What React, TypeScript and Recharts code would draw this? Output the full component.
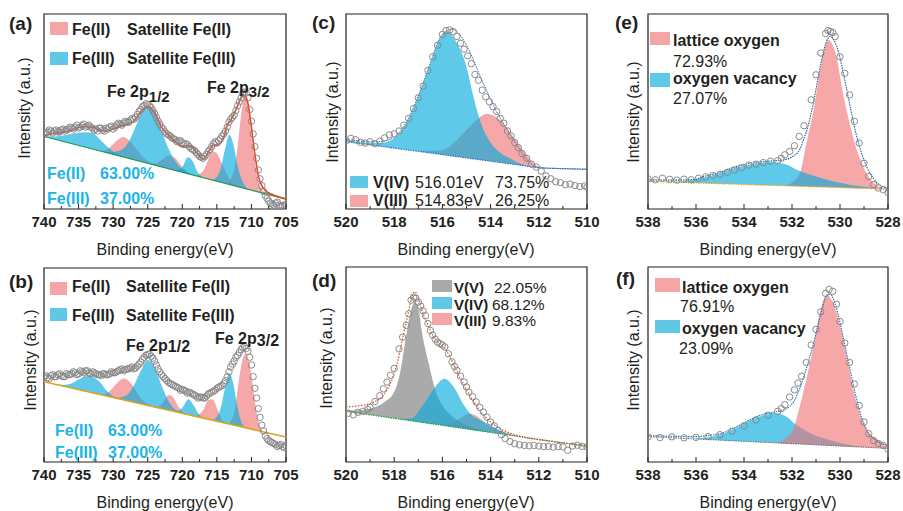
import React from 'react';
import { ComposedChart, Area, Line, Scatter, XAxis, YAxis, ReferenceArea } from 'recharts';

type Tri = [number, number, number];
type Pair = [number, number];

// ---------- tick labels ----------
const TICKS_FE = [740, 737.5, 735, 732.5, 730, 727.5, 725, 722.5, 720, 717.5, 715, 712.5, 710, 707.5, 705];
const TICKS_V = [520, 519, 518, 517, 516, 515, 514, 513, 512, 511, 510];
const TICKS_O = [538, 537, 536, 535, 534, 533, 532, 531, 530, 529, 528];

// ---------- panel (a) ----------
const A_BG: Pair[] = [[740, 37.2], [705, 5.1]];
const A_SAT3_1: Tri[] = [[740, 37.2, 37.4], [738.5, 35.8, 37.2], [737, 34.4, 37.8], [735.5, 33.1, 39.0], [734, 31.7, 39.4], [733, 30.8, 39.0], [732, 29.9, 36.0], [731, 28.9, 32.5], [730, 28.0, 29.6], [729, 27.1, 27.5], [728, 26.2, 26.3]];
const A_SAT2_1: Tri[] = [[731.5, 29.4, 29.6], [730.5, 28.5, 31.5], [729.5, 27.6, 35.0], [728.5, 26.7, 36.9], [727.5, 25.7, 34.5], [726.5, 24.8, 30.0], [725.5, 23.9, 26.0], [724.5, 23.0, 23.4], [723.5, 22.0, 22.0]];
const A_FE3_1: Tri[] = [[731, 28.9, 29.0], [729.5, 27.6, 29.5], [728, 26.2, 33.0], [727, 25.3, 40.0], [726, 24.4, 48.5], [725, 23.4, 52.2], [724, 22.5, 49.0], [723, 21.6, 40.0], [722, 20.7, 31.0], [721, 19.8, 24.5], [720, 18.9, 20.5], [719, 18.0, 18.3], [718, 17.0, 17.0]];
const A_SAT2_2: Tri[] = [[725, 23.4, 23.5], [724, 22.5, 23.3], [723, 21.6, 25.0], [722, 20.7, 27.5], [721, 19.8, 26.0], [720, 18.9, 21.5], [719, 18.0, 18.3], [718.5, 17.5, 17.5]];
const A_SAT3_2: Tri[] = [[721, 19.8, 19.9], [720, 18.9, 21.5], [719.2, 18.2, 26.5], [718.5, 17.5, 24.5], [717.8, 16.8, 19.0], [717, 16.1, 16.3]];
const A_FE2_2: Tri[] = [[718, 17.0, 17.2], [717, 16.1, 19.5], [716, 15.2, 27.0], [715.5, 14.7, 29.5], [715, 14.3, 28.5], [714, 13.4, 21.0], [713, 12.5, 14.5], [712, 11.5, 11.7]];
const A_FE3_2: Tri[] = [[715.5, 14.7, 14.9], [714.5, 13.8, 20.0], [713.8, 13.2, 31.0], [713.2, 12.6, 38.1], [712.6, 12.1, 33.0], [712, 11.5, 22.0], [711.2, 10.8, 13.5], [710.5, 10.2, 10.3]];
const A_FE2_1: Tri[] = [[713.5, 12.9, 13.2], [712.5, 12.0, 20.0], [712, 11.5, 32.0], [711.5, 11.1, 48.0], [711, 10.6, 58.0], [710.5, 10.2, 52.0], [710, 9.7, 38.0], [709.5, 9.2, 24.0], [709, 8.8, 14.0], [708.5, 8.3, 10.0], [708, 7.9, 8.1]];
const A_ENV: Pair[] = [[740, 37.5], [739, 38.5], [738, 39.0], [737, 39.5], [736, 40.5], [735, 41.8], [734, 42.3], [733, 42.0], [732, 40.5], [731, 40.0], [730, 41.0], [729, 42.5], [728, 43.5], [727, 45.0], [726, 50.0], [725, 52.5], [724, 49.5], [723, 42.0], [722, 38.0], [721, 34.5], [720, 32.0], [719, 32.5], [718, 29.5], [717, 25.5], [716, 30.5], [715.5, 33.0], [715, 32.5], [714, 37.0], [713.5, 43.0], [713, 45.5], [712.5, 49.0], [712, 53.0], [711.5, 57.0], [711, 58.5], [710.5, 54.0], [710, 42.0], [709.5, 28.0], [709, 17.0], [708.5, 12.0], [708, 9.5], [707, 7.5], [706, 6.2], [705, 5.2]];
const A_PTS: Pair[] = [[740, 38.5], [739.5, 39.5], [739, 40.0], [738.5, 40.0], [738, 39.5], [737.5, 40.5], [737, 40.0], [736.5, 41.0], [736, 41.5], [735.5, 42.0], [735, 41.5], [734.5, 42.8], [734, 42.0], [733.5, 43.0], [733, 41.5], [732.5, 41.0], [732, 41.5], [731.5, 40.5], [731, 41.5], [730.5, 42.0], [730, 41.0], [729.5, 43.0], [729, 43.5], [728.5, 44.0], [728, 44.5], [727.5, 45.5], [727, 46.0], [726.5, 48.5], [726, 51.0], [725.5, 53.0], [725, 53.5], [724.5, 52.0], [724, 49.0], [723.5, 45.0], [723, 42.0], [722.5, 39.5], [722, 38.0], [721.5, 36.5], [721, 35.5], [720.5, 35.0], [720, 34.0], [719.5, 33.5], [719, 32.0], [718.5, 30.5], [718, 29.0], [717.5, 27.0], [717, 26.0], [716.5, 28.0], [716, 30.5], [715.5, 33.5], [715, 34.0], [714.5, 36.0], [714, 38.5], [713.5, 42.0], [713, 46.0], [712.5, 48.0], [712, 53.0], [711.5, 57.0], [711, 60.0], [710.5, 57.0], [710, 45.0], [709.5, 32.0], [709, 20.0], [708.5, 12.0], [708, 7.0], [707.5, 4.0], [707, 2.5], [706.5, 3.0], [706, 2.0], [705.5, 1.5], [705, 2.5]];
const A_PTS2: Pair[] = [[739.75, 39.0], [739.25, 40.5], [738.75, 39.0], [738.25, 40.5], [737.75, 39.5], [737.25, 41.0], [736.75, 40.5], [736.25, 42.0], [735.75, 41.0], [735.25, 43.0], [734.75, 42.0], [734.25, 43.5], [733.75, 42.5], [733.25, 42.0], [732.75, 40.5], [732.25, 40.0], [731.75, 41.5], [731.25, 40.0], [730.75, 41.0], [730.25, 42.5], [729.75, 42.0], [729.25, 44.0], [728.75, 43.0], [728.25, 45.0], [727.75, 44.5], [727.25, 46.5], [726.75, 47.0], [726.25, 50.0], [725.75, 52.5], [725.25, 54.0], [724.75, 53.0], [724.25, 50.5], [723.75, 47.0], [723.25, 43.5], [722.75, 41.0], [722.25, 38.5], [721.75, 37.5], [721.25, 36.0], [720.75, 34.5], [720.25, 35.0], [719.75, 33.0], [719.25, 33.0], [718.75, 31.0], [718.25, 30.0], [717.75, 28.0], [717.25, 26.5], [716.75, 27.0], [716.25, 29.5], [715.75, 32.0], [715.25, 34.5], [714.75, 35.0], [714.25, 37.5], [713.75, 40.0], [713.25, 44.5], [712.75, 47.0], [712.25, 50.5], [711.75, 55.0], [711.25, 59.0], [710.75, 59.5], [710.25, 51.0], [709.75, 38.5], [709.25, 26.0], [708.75, 15.5], [708.25, 9.0], [707.75, 5.5], [707.25, 3.0], [706.75, 2.0], [706.25, 3.5], [705.75, 1.5], [705.25, 2.0]];

// ---------- panel (b) ----------
const B_BG: Pair[] = [[740, 41.4], [705, 12.9]];
const B_SAT3_1: Tri[] = [[738, 39.8, 40.0], [737, 38.9, 39.8], [736, 38.1, 40.5], [735, 37.3, 42.5], [734, 36.5, 44.3], [733.5, 36.1, 44.5], [733, 35.7, 44.0], [732, 34.9, 41.5], [731, 34.1, 37.0], [730, 33.3, 34.0], [729, 32.4, 32.6]];
const B_SAT2_1: Tri[] = [[731.5, 34.5, 34.7], [730.5, 33.7, 36.5], [729.5, 32.8, 40.5], [728.5, 32.0, 43.1], [727.5, 31.2, 41.0], [726.5, 30.4, 35.5], [725.5, 29.6, 31.0], [724.5, 28.8, 29.0]];
const B_FE3_1: Tri[] = [[729.5, 32.8, 33.0], [728, 31.6, 34.5], [727, 30.8, 39.5], [726, 30.0, 47.0], [725, 29.2, 52.6], [724, 28.4, 49.0], [723, 27.5, 39.5], [722, 26.7, 31.5], [721, 25.9, 27.0], [720, 25.1, 25.3]];
const B_SAT2_2: Tri[] = [[723.5, 28.0, 28.2], [722.7, 27.3, 31.0], [722, 26.7, 34.5], [721.5, 26.3, 34.0], [720.8, 25.8, 30.0], [720, 25.1, 26.0], [719.5, 24.7, 24.8]];
const B_SAT3_2: Tri[] = [[720.8, 25.8, 26.0], [720, 25.1, 28.0], [719.1, 24.4, 32.4], [718.4, 23.8, 29.5], [717.6, 23.2, 24.5], [717, 22.7, 22.8]];
const B_FE2_2: Tri[] = [[718, 23.5, 23.7], [717, 22.7, 26.5], [716.2, 22.0, 32.0], [715.6, 21.5, 32.2], [714.9, 21.0, 27.0], [714.2, 20.4, 21.5], [713.5, 19.8, 19.9]];
const B_FE3_2: Tri[] = [[715.5, 21.4, 21.6], [714.5, 20.6, 27.0], [713.8, 20.1, 38.5], [713.2, 19.6, 45.7], [712.6, 19.1, 40.0], [712, 18.6, 28.0], [711.3, 18.0, 19.5], [710.7, 17.6, 17.7]];
const B_FE2_1: Tri[] = [[713.2, 19.6, 19.8], [712.4, 18.9, 27.0], [711.9, 18.5, 40.0], [711.4, 18.1, 51.0], [710.9, 17.7, 55.7], [710.4, 17.3, 52.0], [709.9, 16.9, 42.0], [709.4, 16.5, 29.0], [708.9, 16.1, 19.5], [708.4, 15.7, 16.2], [708, 15.3, 15.4]];
const B_PTS: Pair[] = [[740, 44.0], [739.5, 43.5], [739, 44.5], [738.5, 44.0], [738, 45.0], [737.5, 44.5], [737, 44.0], [736.5, 45.0], [736, 45.5], [735.5, 46.0], [735, 45.5], [734.5, 46.5], [734, 47.0], [733.5, 46.0], [733, 46.5], [732.5, 45.5], [732, 45.0], [731.5, 45.5], [731, 45.0], [730.5, 45.5], [730, 46.0], [729.5, 46.5], [729, 47.5], [728.5, 47.0], [728, 48.0], [727.5, 48.5], [727, 48.0], [726.5, 49.5], [726, 51.5], [725.5, 54.0], [725, 55.5], [724.5, 54.5], [724, 52.0], [723.5, 48.0], [723, 45.0], [722.5, 43.0], [722, 41.0], [721.5, 40.0], [721, 39.0], [720.5, 38.0], [720, 37.5], [719.5, 36.5], [719, 36.0], [718.5, 35.0], [718, 34.0], [717.5, 33.5], [717, 33.0], [716.5, 34.0], [716, 35.5], [715.5, 36.5], [715, 38.0], [714.5, 39.0], [714, 40.5], [713.5, 44.0], [713, 49.0], [712.5, 52.0], [712, 55.0], [711.5, 58.0], [711, 59.5], [710.5, 57.0], [710, 50.0], [709.5, 38.0], [709, 27.5], [708.5, 19.0], [708, 13.5], [707.5, 11.0], [707, 10.0], [706.5, 9.0], [706, 8.5], [705.5, 8.0], [705, 8.5]];
const B_PTS2: Pair[] = [[739.75, 44.5], [739.25, 43.0], [738.75, 45.0], [738.25, 44.0], [737.75, 45.5], [737.25, 44.0], [736.75, 45.5], [736.25, 45.0], [735.75, 46.5], [735.25, 45.0], [734.75, 47.0], [734.25, 46.0], [733.75, 47.0], [733.25, 45.5], [732.75, 46.0], [732.25, 45.0], [731.75, 44.5], [731.25, 45.5], [730.75, 45.0], [730.25, 46.5], [729.75, 46.0], [729.25, 47.0], [728.75, 48.0], [728.25, 47.5], [727.75, 48.0], [727.25, 49.0], [726.75, 48.5], [726.25, 50.5], [725.75, 53.0], [725.25, 55.0], [724.75, 55.5], [724.25, 53.5], [723.75, 50.0], [723.25, 46.5], [722.75, 44.0], [722.25, 42.0], [721.75, 40.5], [721.25, 39.5], [720.75, 38.5], [720.25, 37.0], [719.75, 37.0], [719.25, 35.5], [718.75, 35.5], [718.25, 34.5], [717.75, 33.0], [717.25, 33.5], [716.75, 33.0], [716.25, 35.0], [715.75, 36.0], [715.25, 37.0], [714.75, 38.5], [714.25, 39.5], [713.75, 42.0], [713.25, 46.5], [712.75, 50.5], [712.25, 54.0], [711.75, 56.5], [711.25, 59.0], [710.75, 58.5], [710.25, 54.0], [709.75, 44.0], [709.25, 33.0], [708.75, 23.0], [708.25, 16.0], [707.75, 12.0], [707.25, 10.5], [706.75, 9.5], [706.25, 8.0], [705.75, 9.0], [705.25, 7.5]];

// ---------- panel (c) ----------
const C_BG: Pair[] = [[520, 34.6], [511.9, 21.0], [510, 20.4]];
const C_V4: Tri[] = [[520, 34.6, 35.2], [519, 32.9, 34.0], [518.5, 32.1, 34.0], [518, 31.2, 36.3], [517.5, 30.4, 44.0], [517, 29.6, 57.7], [516.5, 28.7, 74.7], [516.1, 28.1, 87.5], [515.8, 27.6, 91.0], [515.4, 26.9, 85.0], [515, 26.2, 73.0], [514.7, 25.7, 57.0], [514.4, 25.2, 44.0], [514.1, 24.7, 36.0], [513.8, 24.2, 31.0], [513.5, 23.7, 28.0], [513.2, 23.2, 26.0], [512.9, 22.7, 24.0], [512.6, 22.2, 22.6], [512.3, 21.7, 21.8]];
const C_V3: Tri[] = [[517, 29.6, 29.8], [516.1, 28.1, 30.0], [515.7, 27.4, 32.0], [515.27, 26.7, 37.0], [514.72, 25.8, 44.0], [514.16, 24.8, 48.8], [513.6, 23.9, 45.6], [513.06, 23.0, 37.0], [512.5, 22.1, 27.7], [512, 21.2, 21.5], [511.7, 20.9, 20.9]];
const C_ENV: Pair[] = [[520, 35.5], [519.5, 35.0], [519, 34.5], [518.5, 34.7], [518, 36.8], [517.5, 44.5], [517, 58.0], [516.5, 75.0], [516.1, 87.8], [515.8, 91.5], [515.6, 92.2], [515.4, 91.0], [515, 84.0], [514.7, 76.0], [514.4, 67.0], [514.1, 59.0], [513.8, 51.0], [513.5, 44.5], [513.2, 38.5], [512.9, 32.5], [512.6, 27.0], [512.3, 23.0], [512, 21.3], [511.5, 20.9], [511, 20.7], [510.5, 20.5], [510, 20.4]];
const C_PTS: Pair[] = [[520, 35.0], [519.8, 36.2], [519.6, 35.5], [519.4, 34.2], [519.2, 33.8], [519, 34.5], [518.8, 33.5], [518.6, 34.8], [518.4, 36.5], [518.2, 38.0], [518, 38.5], [517.8, 40.0], [517.6, 43.0], [517.4, 46.5], [517.2, 51.5], [517, 57.0], [516.8, 63.0], [516.6, 71.0], [516.4, 78.0], [516.2, 84.0], [516, 89.5], [515.85, 91.5], [515.7, 91.8], [515.55, 91.0], [515.4, 88.5], [515.25, 85.0], [515.1, 82.0], [514.95, 78.5], [514.8, 74.5], [514.65, 69.0], [514.5, 66.0], [514.35, 61.0], [514.2, 57.5], [514.05, 55.0], [513.9, 52.5], [513.75, 50.0], [513.6, 46.5], [513.45, 44.0], [513.3, 40.0], [513.15, 37.5], [513, 34.0], [512.85, 31.5], [512.7, 28.5], [512.5, 26.0], [512.3, 23.0], [512.1, 21.5], [511.9, 19.5], [511.7, 17.0], [511.5, 15.5], [511.3, 14.0], [511.1, 13.5], [510.9, 12.5], [510.7, 12.8], [510.5, 12.0], [510.3, 11.5], [510.1, 11.8], [510, 11.2]];

// ---------- panel (d) ----------
const D_BG: Pair[] = [[520, 26.0], [510, 8.0]];
const D_V5: Tri[] = [[520, 26.0, 26.5], [519.5, 25.1, 26.5], [519, 24.2, 27.4], [518.4, 23.1, 30.8], [518, 22.4, 35.9], [517.75, 22.0, 46.0], [517.5, 21.5, 65.0], [517.3, 21.1, 78.0], [517.15, 20.9, 82.1], [517, 20.6, 79.0], [516.85, 20.3, 66.7], [516.55, 19.8, 49.6], [516.3, 19.3, 37.0], [516, 18.8, 29.0], [515.6, 18.1, 23.5], [515.2, 17.4, 20.0], [514.8, 16.6, 17.8], [514.3, 15.7, 16.0], [513.8, 14.8, 14.8]];
const D_V4: Tri[] = [[517.8, 22.0, 22.1], [517.3, 21.1, 22.3], [516.9, 20.4, 27.5], [516.6, 19.9, 33.0], [516.3, 19.3, 38.5], [515.92, 18.7, 42.7], [515.53, 18.0, 38.5], [515.1, 17.2, 29.0], [514.84, 16.7, 24.8], [514.4, 15.9, 21.4], [514, 15.2, 18.8], [513.5, 14.3, 15.5], [513, 13.4, 13.5]];
const D_V3: Tri[] = [[516, 18.8, 18.9], [515.6, 18.1, 20.0], [515.2, 17.4, 23.0], [514.9, 16.8, 24.8], [514.6, 16.3, 23.8], [514.3, 15.7, 20.8], [514, 15.2, 17.8], [513.6, 14.5, 16.0], [513.2, 13.8, 14.5], [512.8, 13.0, 13.1]];
const D_ENV: Pair[] = [[520, 28.2], [519.5, 28.8], [519, 30.0], [518.4, 35.0], [517.9, 49.6], [517.5, 71.8], [517.15, 87.2], [516.8, 76.0], [516.4, 65.0], [515.8, 56.4], [515.25, 42.7], [514.7, 30.8], [514.15, 22.2], [513.6, 17.1], [512.9, 13.7], [511.5, 10.6], [510, 8.5]];
const D_PTS: Pair[] = [[519.9, 25.0], [519.7, 24.2], [519.5, 25.5], [519.3, 26.0], [519.1, 27.0], [519, 28.0], [518.8, 31.0], [518.6, 34.0], [518.45, 37.5], [518.3, 41.0], [518.15, 44.5], [518, 48.0], [517.8, 58.0], [517.65, 64.0], [517.5, 70.0], [517.4, 76.0], [517.3, 83.0], [517.2, 84.5], [517.1, 84.0], [517, 82.0], [516.9, 80.0], [516.8, 77.5], [516.7, 75.0], [516.6, 71.0], [516.5, 67.5], [516.4, 65.0], [516.3, 63.0], [516.2, 61.5], [516.1, 60.7], [516, 60.0], [515.9, 59.0], [515.75, 55.5], [515.6, 51.3], [515.5, 49.0], [515.4, 47.0], [515.25, 44.0], [515.1, 41.0], [515, 38.5], [514.9, 35.9], [514.75, 33.5], [514.6, 30.8], [514.45, 28.0], [514.3, 25.6], [514.15, 23.0], [514, 20.5], [513.85, 18.5], [513.7, 16.2], [513.55, 14.0], [513.4, 12.0], [513.2, 10.5], [513, 9.4], [512.8, 8.8], [512.6, 8.5], [512.4, 8.3], [512.2, 8.5], [512, 8.2], [511.8, 7.9], [511.6, 8.0], [511.4, 7.6], [511.2, 7.9], [511, 7.7], [510.8, 6.0], [510.6, 8.2], [510.4, 8.6], [510.2, 8.0], [510, 7.7]];

// ---------- panel (e) ----------
const E_BG: Pair[] = [[538, 14.2], [528, 10.2]];
const E_O_LAT: Tri[] = [[532.4, 12.0, 12.1], [532, 11.8, 13.5], [531.67, 11.7, 18.4], [531.4, 11.6, 33.8], [531.1, 11.4, 50.9], [530.85, 11.3, 69.6], [530.65, 11.3, 82.0], [530.48, 11.2, 86.7], [530.3, 11.1, 84.0], [530.15, 11.1, 78.2], [529.9, 11.0, 61.0], [529.6, 10.8, 44.0], [529.3, 10.7, 30.4], [528.9, 10.6, 18.4], [528.5, 10.4, 12.5], [528.1, 10.2, 10.5]];
const E_O_VAC: Tri[] = [[537, 13.8, 14.0], [536.4, 13.6, 14.5], [535.8, 13.3, 15.9], [535.1, 13.0, 18.1], [534.4, 12.8, 21.0], [533.7, 12.5, 23.0], [532.9, 12.2, 24.1], [532.2, 11.9, 22.7], [531.8, 11.7, 20.1], [531.4, 11.6, 18.2], [531, 11.4, 16.7], [530.3, 11.1, 14.2], [529.6, 10.8, 12.5], [528.9, 10.6, 11.3], [528.4, 10.4, 10.6]];
const E_ENV: Pair[] = [[538, 15.0], [537, 14.8], [536, 15.2], [535.8, 16.2], [535.1, 18.5], [534.4, 21.5], [533.7, 23.5], [532.9, 24.6], [532.5, 25.0], [532.2, 25.6], [531.9, 27.5], [531.7, 30.0], [531.5, 36.0], [531.3, 44.0], [531.1, 55.0], [530.9, 68.0], [530.7, 80.0], [530.5, 87.5], [530.4, 88.5], [530.25, 86.5], [530.05, 80.0], [529.9, 72.0], [529.7, 60.0], [529.5, 48.0], [529.3, 37.0], [529.1, 28.5], [528.9, 22.0], [528.6, 15.5], [528.3, 12.0], [528, 10.8]];
const E_PTS: Pair[] = [[538, 15.5], [537.7, 15.0], [537.4, 15.8], [537.1, 15.2], [536.8, 14.8], [536.5, 15.3], [536.2, 15.0], [535.9, 15.8], [535.6, 16.5], [535.3, 17.2], [535, 17.8], [534.7, 18.8], [534.4, 20.0], [534.1, 21.2], [533.8, 22.5], [533.5, 23.0], [533.2, 23.8], [532.9, 24.5], [532.6, 24.8], [532.45, 26.0], [532.3, 27.8], [532.1, 29.5], [531.9, 32.4], [531.7, 37.2], [531.5, 42.7], [531.2, 56.0], [531, 68.8], [530.8, 80.0], [530.6, 90.0], [530.5, 91.5], [530.4, 91.0], [530.3, 90.5], [530.2, 88.4], [530, 78.0], [529.8, 69.6], [529.6, 58.5], [529.4, 45.0], [529.2, 33.8], [529, 23.5], [528.8, 16.7], [528.6, 12.5], [528.4, 10.8], [528.2, 9.9], [528, 8.5]];

// ---------- panel (f) ----------
const F_BG: Pair[] = [[538, 13.0], [528, 7.0]];
const F_O_VAC: Tri[] = [[536, 11.8, 12.0], [535.1, 11.3, 13.7], [534.4, 10.8, 17.1], [533.75, 10.5, 21.4], [533.2, 10.1, 24.0], [532.78, 9.9, 25.1], [532.2, 9.5, 23.0], [531.9, 9.3, 19.7], [531.5, 9.1, 16.5], [531, 8.8, 13.5], [530.5, 8.5, 11.5], [530, 8.2, 9.8], [529.4, 7.8, 8.4], [529, 7.6, 7.7]];
const F_O_LAT: Tri[] = [[532.6, 9.8, 9.9], [532, 9.4, 15.4], [531.7, 9.2, 27.4], [531.4, 9.0, 42.7], [531.1, 8.9, 59.8], [530.85, 8.7, 76.0], [530.56, 8.5, 85.5], [530.3, 8.4, 82.0], [530, 8.2, 70.0], [529.7, 8.0, 53.0], [529.45, 7.9, 37.6], [529.2, 7.7, 25.6], [528.9, 7.5, 17.1], [528.5, 7.3, 12.0], [528.1, 7.1, 9.0]];
const F_ENV: Pair[] = [[538, 13.5], [537, 13.2], [536, 13.0], [535.5, 13.6], [535, 14.5], [534.4, 17.5], [533.7, 22.0], [533.2, 24.5], [532.8, 25.5], [532.4, 26.5], [532.1, 28.5], [531.9, 31.5], [531.7, 37.0], [531.5, 44.0], [531.3, 52.0], [531.1, 61.0], [530.9, 71.0], [530.7, 80.5], [530.55, 85.5], [530.4, 86.0], [530.2, 81.0], [530, 71.5], [529.8, 60.0], [529.6, 48.5], [529.4, 37.0], [529.2, 27.0], [529, 19.5], [528.8, 14.5], [528.5, 11.0], [528, 8.5]];
const F_PTS: Pair[] = [[538, 12.8], [537.5, 12.5], [537, 12.9], [536.5, 12.4], [536, 12.6], [535.5, 13.0], [535, 14.0], [534.5, 15.8], [534, 18.5], [533.5, 21.5], [533, 24.0], [532.6, 26.0], [532.45, 27.4], [532.3, 29.4], [532.1, 33.3], [531.9, 37.0], [531.75, 40.5], [531.6, 44.0], [531.4, 51.0], [531.2, 60.0], [531, 68.0], [530.8, 77.0], [530.6, 86.5], [530.45, 88.5], [530.3, 87.5], [530.15, 81.0], [530, 72.0], [529.8, 61.0], [529.6, 51.0], [529.4, 40.0], [529.2, 29.0], [529, 20.5], [528.8, 14.5], [528.6, 11.0], [528.4, 9.5], [528.2, 8.5], [528, 6.5]];

// ---------- styles ----------
const BLUE = '#00aadc';
const PINK = '#f06e6e';
const GRAY = '#7d7d7d';
const SW_BLUE = '#5ec8e6';
const SW_PINK = '#f5a5a5';
const SW_GRAY = '#a9a9a9';
const FONT = '"Liberation Sans", Arial, Helvetica, sans-serif';
const INK = '#231f20';
const CYAN = '#1bb3e8';
const PAD = 22;

type Peak = { data: Tri[]; color: string; opacity: number };
type LineStyle = { stroke: string; width: number; dash?: string };
type Spec = {
  plotLeft: number; plotTop: number; plotW: number; plotH: number;
  domain: [number, number]; ticks: number[]; major: number;
  peaks: Peak[]; bg: Pair[]; bgStyle: LineStyle; pts: Pair[][];
  env?: Pair[]; envStyle?: LineStyle;
};

const toRange = (t: Tri[]) => t.map(([e, lo, hi]) => ({ e, r: [lo, hi] }));
const toPts = (p: Pair[]) => p.map(([e, v]) => ({ e, v }));

const makeTick = (major: number) => (props: any) => {
  const { x, y, payload } = props;
  const v = payload.value as number;
  const isMajor = Math.abs(v / major - Math.round(v / major)) < 1e-6;
  return (
    <g>
      <line x1={x} x2={x} y1={y} y2={y - (isMajor ? 5 : 3)} stroke={INK} strokeWidth={1} />
      {isMajor && (
        <text x={x} y={y + 18} textAnchor="middle" fontSize={15} fontWeight="bold" fill={INK} fontFamily={FONT}>
          {v}
        </text>
      )}
    </g>
  );
};

const circleShape = (p: any) => (
  <circle cx={p.cx} cy={p.cy} r={3.2} fill="none" stroke="#858585" strokeWidth={0.95} />
);

function Panel({ s }: { s: Spec }) {
  return (
    <div style={{ position: 'absolute', left: s.plotLeft - PAD, top: s.plotTop - 2 }}>
      <ComposedChart width={s.plotW + 2 * PAD} height={s.plotH + 35} margin={{ top: 2, right: PAD, bottom: 0, left: PAD }}>
        <XAxis
          dataKey="e"
          type="number"
          domain={s.domain}
          reversed
          allowDataOverflow
          ticks={s.ticks}
          interval={0}
          tickLine={false}
          axisLine={false}
          tickSize={0}
          tickMargin={0}
          height={33}
          tick={makeTick(s.major)}
        />
        <YAxis dataKey="v" type="number" domain={[0, 100]} hide width={0} allowDataOverflow />
        {s.peaks.map((p, i) => (
          <Area
            key={i}
            data={toRange(p.data)}
            dataKey="r"
            type="monotone"
            fill={p.color}
            fillOpacity={p.opacity}
            stroke="none"
            dot={false}
            activeDot={false}
            isAnimationActive={false}
          />
        ))}
        <Line
          data={toPts(s.bg)}
          dataKey="v"
          type="linear"
          stroke={s.bgStyle.stroke}
          strokeWidth={s.bgStyle.width}
          strokeDasharray={s.bgStyle.dash}
          dot={false}
          activeDot={false}
          isAnimationActive={false}
        />
        {s.pts.map((pp, i) => (
          <Scatter key={'s' + i} data={toPts(pp)} shape={circleShape} isAnimationActive={false} />
        ))}
        {s.env && s.envStyle && (
          <Line
            data={toPts(s.env)}
            dataKey="v"
            type="monotone"
            stroke={s.envStyle.stroke}
            strokeWidth={s.envStyle.width}
            strokeDasharray={s.envStyle.dash}
            dot={false}
            activeDot={false}
            isAnimationActive={false}
          />
        )}
        <ReferenceArea
          x1={s.domain[0]}
          x2={s.domain[1]}
          y1={0}
          y2={100}
          fill="none"
          stroke={INK}
          strokeWidth={1.2}
          ifOverflow="visible"
        />
      </ComposedChart>
    </div>
  );
}

const SPECS: Spec[] = [
  {
    plotLeft: 44, plotTop: 14, plotW: 242, plotH: 195, domain: [705, 740], ticks: TICKS_FE, major: 5,
    peaks: [
      { data: A_SAT2_1, color: PINK, opacity: 0.6 },
      { data: A_SAT2_2, color: PINK, opacity: 0.6 },
      { data: A_FE2_2, color: PINK, opacity: 0.6 },
      { data: A_FE2_1, color: PINK, opacity: 0.6 },
      { data: A_SAT3_1, color: BLUE, opacity: 0.63 },
      { data: A_FE3_1, color: BLUE, opacity: 0.63 },
      { data: A_SAT3_2, color: BLUE, opacity: 0.63 },
      { data: A_FE3_2, color: BLUE, opacity: 0.63 },
    ],
    bg: A_BG, bgStyle: { stroke: '#1a9a50', width: 1.2 }, pts: [A_PTS, A_PTS2],
    env: A_ENV, envStyle: { stroke: '#ee4422', width: 1.6 },
  },
  {
    plotLeft: 44, plotTop: 268, plotW: 242, plotH: 194, domain: [705, 740], ticks: TICKS_FE, major: 5,
    peaks: [
      { data: B_SAT2_1, color: PINK, opacity: 0.6 },
      { data: B_SAT2_2, color: PINK, opacity: 0.6 },
      { data: B_FE2_2, color: PINK, opacity: 0.6 },
      { data: B_FE2_1, color: PINK, opacity: 0.6 },
      { data: B_SAT3_1, color: BLUE, opacity: 0.63 },
      { data: B_FE3_1, color: BLUE, opacity: 0.63 },
      { data: B_SAT3_2, color: BLUE, opacity: 0.63 },
      { data: B_FE3_2, color: BLUE, opacity: 0.63 },
    ],
    bg: B_BG, bgStyle: { stroke: '#d9a51c', width: 1.5 }, pts: [B_PTS, B_PTS2],
  },
  {
    plotLeft: 346, plotTop: 14, plotW: 241, plotH: 195, domain: [510, 520], ticks: TICKS_V, major: 2,
    peaks: [
      { data: C_V3, color: PINK, opacity: 0.6 },
      { data: C_V4, color: BLUE, opacity: 0.63 },
    ],
    bg: C_BG, bgStyle: { stroke: '#2878c0', width: 1.2, dash: '1.5 1' }, pts: [C_PTS],
    env: C_ENV, envStyle: { stroke: '#2b6fb0', width: 1, dash: '1.5 1' },
  },
  {
    plotLeft: 346, plotTop: 267, plotW: 241, plotH: 195, domain: [510, 520], ticks: TICKS_V, major: 2,
    peaks: [
      { data: D_V5, color: GRAY, opacity: 0.65 },
      { data: D_V3, color: PINK, opacity: 0.6 },
      { data: D_V4, color: BLUE, opacity: 0.63 },
    ],
    bg: D_BG, bgStyle: { stroke: '#22a040', width: 1.3, dash: '1.5 1' }, pts: [D_PTS],
    env: D_ENV, envStyle: { stroke: '#e5502a', width: 1.3, dash: '1.5 1.5' },
  },
  {
    plotLeft: 648, plotTop: 14, plotW: 240, plotH: 195, domain: [528, 538], ticks: TICKS_O, major: 2,
    peaks: [
      { data: E_O_LAT, color: PINK, opacity: 0.6 },
      { data: E_O_VAC, color: BLUE, opacity: 0.63 },
    ],
    bg: E_BG, bgStyle: { stroke: '#f0a020', width: 1.3, dash: '1.5 1' }, pts: [E_PTS],
    env: E_ENV, envStyle: { stroke: '#1d5e9e', width: 1.1, dash: '1.5 1' },
  },
  {
    plotLeft: 648, plotTop: 267, plotW: 240, plotH: 195, domain: [528, 538], ticks: TICKS_O, major: 2,
    peaks: [
      { data: F_O_VAC, color: BLUE, opacity: 0.63 },
      { data: F_O_LAT, color: PINK, opacity: 0.6 },
    ],
    bg: F_BG, bgStyle: { stroke: '#777777', width: 1.1, dash: '1.5 1' }, pts: [F_PTS],
    env: F_ENV, envStyle: { stroke: '#2070b0', width: 1.1, dash: '1.5 1' },
  },
];

const T = (p: { x: number; y: number; s?: number; b?: boolean; c?: string; a?: 'start' | 'middle' | 'end'; children: React.ReactNode }) => (
  <text
    x={p.x}
    y={p.y}
    fontSize={p.s ?? 16}
    fontWeight={p.b ? 'bold' : 'normal'}
    fill={p.c ?? INK}
    textAnchor={p.a ?? 'start'}
    dominantBaseline="central"
    fontFamily={FONT}
  >
    {p.children}
  </text>
);

function Overlay() {
  const xLabel = (x: number, y: number) => (
    <T x={x} y={y} a="middle">Binding energy(eV)</T>
  );
  const yLabel = (x: number, y: number) => (
    <text x={x} y={y} fontSize={16} fill={INK} textAnchor="middle" dominantBaseline="central" fontFamily={FONT} transform={`rotate(-90 ${x} ${y})`}>
      Intensity (a.u.)
    </text>
  );
  return (
    <svg width={903} height={511} style={{ position: 'absolute', left: 0, top: 0, pointerEvents: 'none' }}>
      {/* panel letters */}
      <T x={9} y={23} s={19} b>(a)</T>
      <T x={9} y={281} s={19} b>(b)</T>
      <T x={312} y={22} s={19} b>(c)</T>
      <T x={312} y={280} s={19} b>(d)</T>
      <T x={615} y={22} s={19} b>(e)</T>
      <T x={616} y={278} s={19} b>(f)</T>

      {xLabel(165, 249)} {xLabel(466, 249)} {xLabel(768, 249)}
      {xLabel(165, 502)} {xLabel(466, 502)} {xLabel(768, 502)}
      {yLabel(24, 108)} {yLabel(332, 112)} {yLabel(633, 112)}
      {yLabel(30, 360)} {yLabel(326, 358)} {yLabel(633, 360)}

      {/* (a) */}
      <rect x={50} y={22} width={18} height={13} fill={SW_PINK} />
      <T x={72} y={29} b>Fe(II)</T>
      <T x={127} y={29} b>Satellite Fe(II)</T>
      <rect x={50} y={52} width={18} height={13} fill={SW_BLUE} />
      <T x={72} y={58} b>Fe(III)</T>
      <T x={127} y={58} b>Satellite Fe(III)</T>
      <text x={107} y={97} fontSize={16} fontWeight="bold" fill={INK} fontFamily={FONT}>
        Fe 2p<tspan fontSize={15} dy={5}>1/2</tspan>
      </text>
      <text x={207} y={93} fontSize={16} fontWeight="bold" fill={INK} fontFamily={FONT}>
        Fe 2p<tspan fontSize={15} dy={4}>3/2</tspan>
      </text>
      <T x={47} y={173} b c={CYAN}>Fe(II)</T>
      <T x={100} y={173} b c={CYAN}>63.00%</T>
      <T x={47} y={198} b c={CYAN}>Fe(III)</T>
      <T x={100} y={198} b c={CYAN}>37.00%</T>

      {/* (b) */}
      <rect x={50} y={282} width={17} height={13} fill={SW_PINK} />
      <T x={72} y={286} b>Fe(II)</T>
      <T x={126} y={286} b>Satellite Fe(II)</T>
      <rect x={50} y={308} width={17} height={13} fill={SW_BLUE} />
      <T x={72} y={315} b>Fe(III)</T>
      <T x={126} y={315} b>Satellite Fe(III)</T>
      <text x={126} y={351} fontSize={16} fontWeight="bold" fill={INK} fontFamily={FONT}>
        Fe 2p<tspan dy={1}>1/2</tspan>
      </text>
      <text x={215} y={344} fontSize={16} fontWeight="bold" fill={INK} fontFamily={FONT}>
        Fe 2p<tspan dy={2}>3/2</tspan>
      </text>
      <T x={55} y={430} b c={CYAN}>Fe(II)</T>
      <T x={108} y={430} b c={CYAN}>63.00%</T>
      <T x={55} y={452} b c={CYAN}>Fe(III)</T>
      <T x={108} y={452} b c={CYAN}>37.00%</T>

      {/* (c) */}
      <rect x={350} y={176} width={18} height={12} fill={SW_BLUE} />
      <T x={373} y={182} b>V(IV)</T>
      <T x={415} y={182}>516.01eV</T>
      <T x={495} y={182}>73.75%</T>
      <rect x={350} y={195} width={18} height={12} fill={SW_PINK} />
      <T x={373} y={200} b>V(III)</T>
      <T x={415} y={200}>514.83eV</T>
      <T x={495} y={200}>26.25%</T>

      {/* (d) */}
      <rect x={432} y={280} width={20} height={12} fill={SW_GRAY} />
      <T x={454} y={287} s={15} b>V(V)</T>
      <T x={494} y={287} s={15.5}>22.05%</T>
      <rect x={432} y={297} width={20} height={12} fill={SW_BLUE} />
      <T x={454} y={304} s={15} b>V(IV)</T>
      <T x={492} y={304} s={15.5}>68.12%</T>
      <rect x={432} y={313} width={20} height={12} fill={SW_PINK} />
      <T x={454} y={320} s={15} b>V(III)</T>
      <T x={492} y={320} s={15.5}>9.83%</T>

      {/* (e) */}
      <rect x={650} y={32} width={20} height={13} fill={SW_PINK} />
      <T x={673} y={40} b>lattice oxygen</T>
      <T x={673} y={61}>72.93%</T>
      <rect x={650} y={73} width={20} height={14} fill={SW_BLUE} />
      <T x={673} y={78} b>oxygen vacancy</T>
      <T x={673} y={98}>27.07%</T>

      {/* (f) */}
      <rect x={655} y={278} width={25} height={14} fill={SW_PINK} />
      <T x={682} y={287} b>lattice oxygen</T>
      <T x={680} y={306}>76.91%</T>
      <rect x={655} y={320} width={25} height={13} fill={SW_BLUE} />
      <T x={682} y={328} b>oxygen vacancy</T>
      <T x={679} y={348}>23.09%</T>
    </svg>
  );
}

export default function App() {
  return (
    <div style={{ position: 'absolute', left: 0, top: 0, width: 903, height: 511, background: '#fff', overflow: 'hidden', fontFamily: FONT }}>
      {SPECS.map((s, i) => (
        <Panel key={i} s={s} />
      ))}
      <Overlay />
    </div>
  );
}
